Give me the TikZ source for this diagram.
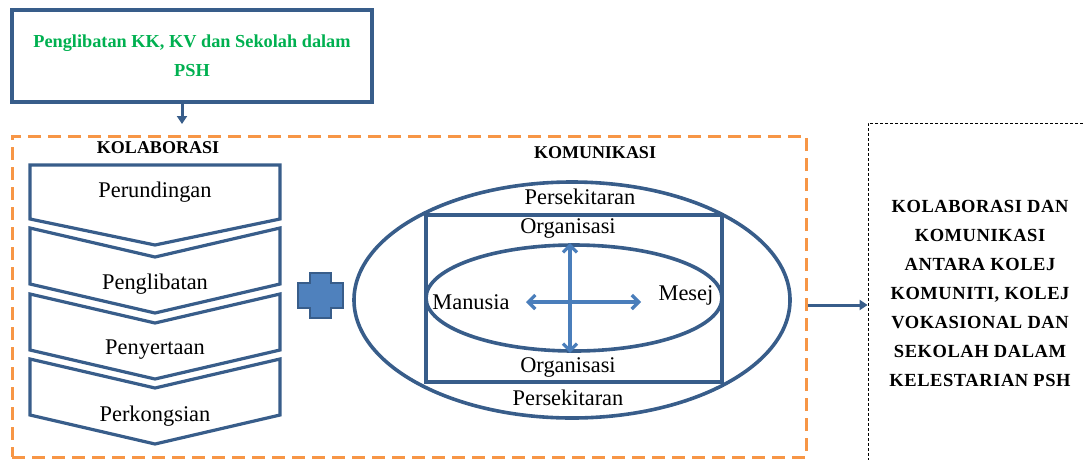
\documentclass[tikz,border=0pt]{standalone}
\usepackage{fontspec}
\setmainfont{Liberation Serif}
\newfontfamily\renggang[LetterSpace=3]{Liberation Serif}
\usepackage{xcolor}
\usetikzlibrary{shapes.geometric,arrows.meta}

\definecolor{garisbiru}{HTML}{385D8A}
\definecolor{isibiru}{HTML}{4F81BD}
\definecolor{anakpanah}{HTML}{4A7EBB}
\definecolor{oren}{HTML}{F79646}
\definecolor{hijau}{HTML}{00B050}

\begin{document}
\begin{tikzpicture}[x=1pt,y=-1pt,
    garis/.style={draw=garisbiru,line width=3.2pt},
    label/.style={font=\fontsize{22.4}{26}\selectfont},
    tajuk/.style={font=\fontsize{18}{22}\selectfont\bfseries},
    panahbiru/.style={draw=garisbiru,line width=3pt,-{Triangle[length=8pt,width=10pt]}},
    panahcerah/.style={draw=anakpanah,line width=3.2pt,{Straight Barb[length=7pt,width=14pt]}-{Straight Barb[length=7pt,width=14pt]}}]
        \useasboundingbox (0,0) rectangle (1083,459);
        \clip (0,0) rectangle (1083,459);

        % kotak atas
        \node [garis,minimum width=360,minimum height=92,align=center,text=hijau,
            font=\fontsize{18.3}{29}\selectfont\bfseries] (penglibatan) at (192,56)
            {Penglibatan KK, KV dan Sekolah dalam\\PSH};
        \coordinate (masuk) at (182,124);
        \draw[panahbiru] (penglibatan.south -| masuk) -- (masuk);

        % kotak oren
        \node [draw=oren,line width=3pt,dash pattern=on 13pt off 7pt,minimum width=794,minimum height=321] (gabungan) at (409,296.5) {};
        \node [tajuk] (kolaborasi) at (158,148) {KOLABORASI};
        \node [tajuk] (komunikasi) at (595,153) {KOMUNIKASI};

        % chevron kolaborasi
        \draw[garis,fill=white] (30,165) -- (280,165) -- (280,219) -- (155,245) -- (30,219) -- cycle;
        \foreach \y in {228,294,359}
            \draw[garis,fill=white] (30,\y) -- (155,\y+29) -- (280,\y) -- (280,\y+56) -- (155,\y+85) -- (30,\y+56) -- cycle;
        \node [label] (perundingan) at (155,192) {Perundingan};
        \node [label] (penglibatanK) at (155,284) {Penglibatan};
        \node [label] (penyertaan) at (155,350) {Penyertaan};
        \node [label] (perkongsian) at (155,416) {Perkongsian};

        % tanda tambah
        \draw[draw=garisbiru,fill=isibiru,line width=2.2pt] (310,273) -- (331,273) -- (331,283) -- (343,283) -- (343,308) -- (331,308)
            -- (331,318) -- (310,318) -- (310,308) -- (298,308) -- (298,283) -- (310,283) -- cycle;

        % komunikasi
        \node [garis,line width=3.6pt,ellipse,minimum width=436,minimum height=236] (luar) at (572,300) {};
        \node [garis,fill=white,minimum width=296,minimum height=167] (organisasi) at (574,298.5) {};
        \node [garis,line width=3.6pt,ellipse,minimum width=296,minimum height=106] (dalam) at (574,298) {};
        \node [label] (sekitaratas) at (580,197) {Persekitaran};
        \node [label] (organatas) at (568,228) {Organisasi};
        \node [label] (manusia) at (471,302) {Manusia};
        \node [label] (mesej) at (686,295) {Mesej};
        \node [label] (organbawah) at (568,367) {Organisasi};
        \node [label] (sekitarbawah) at (568,398) {Persekitaran};
        \coordinate (kiri) at (526,302);
        \coordinate (kanan) at (641,302);
        \draw[panahcerah] (dalam.north -| 570,0) -- (dalam.south -| 570,0);
        \draw[panahcerah] (kiri) -- (kanan);

        % kotak hasil
        \node [draw=black,line width=0.8pt,dash pattern=on 3pt off 2pt,minimum width=260,minimum height=400] (hasil) at (998,323) {};
        \node [align=center,font=\renggang\fontsize{18.5}{29}\selectfont\bfseries] (hasiltext) at (980,293)
            {KOLABORASI DAN\\KOMUNIKASI\\ANTARA KOLEJ\\KOMUNITI, KOLEJ\\VOKASIONAL DAN\\SEKOLAH DALAM\\KELESTARIAN PSH};
        \coordinate (jalan) at (0,305);
        \draw[panahbiru] (gabungan.east |- jalan) -- (hasil.west |- jalan);

    \end{tikzpicture}
\end{document}
